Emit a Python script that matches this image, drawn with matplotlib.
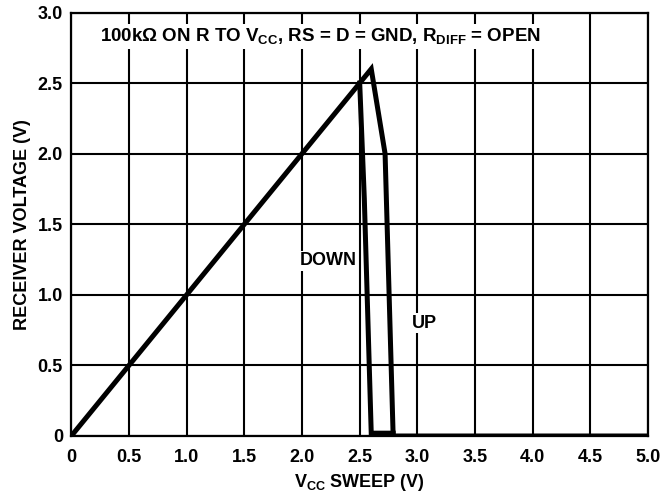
import numpy as np
import matplotlib
matplotlib.use('Agg')
import matplotlib.pyplot as plt

plt.rcParams['font.family'] = ['Liberation Sans', 'DejaVu Sans']
plt.rcParams['font.weight'] = 'bold'
plt.rcParams['mathtext.fontset'] = 'custom'
plt.rcParams['mathtext.rm'] = 'Liberation Sans:bold'
plt.rcParams['mathtext.it'] = 'Liberation Sans:bold'
plt.rcParams['mathtext.bf'] = 'Liberation Sans:bold'

# sweep up: follows VCC then drops
up_x = [0.0, 2.60, 2.72, 2.79, 5.0]
up_y = [0.0, 2.60, 2.00, 0.0, 0.0]

# sweep down: rises off zero near 2.6 V back to the diagonal
down_x = [2.79, 2.60, 2.54, 2.50]
down_y = [0.02, 0.02, 1.68, 2.50]

x_ticks = [0, 0.5, 1.0, 1.5, 2.0, 2.5, 3.0, 3.5, 4.0, 4.5, 5.0]
x_tick_labels = ['0', '0.5', '1.0', '1.5', '2.0', '2.5', '3.0', '3.5', '4.0', '4.5', '5.0']
y_ticks = [0, 0.5, 1.0, 1.5, 2.0, 2.5, 3.0]
y_tick_labels = ['0', '0.5', '1.0', '1.5', '2.0', '2.5', '3.0']

fig = plt.figure(figsize=(6.6, 5.0), dpi=100)
ax = fig.add_axes([0.108, 0.128, 0.874, 0.847])

ax.plot(up_x, up_y, color='black', linewidth=3.6, solid_joinstyle='miter', zorder=3)
ax.plot(down_x, down_y, color='black', linewidth=3.6, solid_joinstyle='miter', zorder=3)

ax.set_xlim(0, 5)
ax.set_ylim(0, 3)
ax.set_xticks(x_ticks)
ax.set_xticklabels(x_tick_labels)
ax.set_yticks(y_ticks)
ax.set_yticklabels(y_tick_labels)
ax.tick_params(length=0, labelsize=13)
ax.tick_params(axis='x', pad=9)
ax.tick_params(axis='y', pad=6)
ax.grid(True, color='black', linewidth=1.5)
for s in ax.spines.values():
    s.set_linewidth(1.6)

ax.set_xlabel(r'$\mathbf{V_{CC}}$ SWEEP (V)', fontsize=13, fontweight='bold', labelpad=5)
ax.set_ylabel('RECEIVER VOLTAGE (V)', fontsize=13, fontweight='bold', labelpad=5)

ax.text(0.25, 2.83, r'100k$\Omega$ ON R TO V$_{CC}$, RS = D = GND, R$_{DIFF}$ = OPEN',
        fontsize=13.5, fontweight='bold', va='center', ha='left', zorder=4,
        bbox=dict(facecolor='white', edgecolor='none', pad=2))
ax.text(2.23, 1.24, 'DOWN', fontsize=13, fontweight='bold', ha='center', va='center', zorder=4,
        bbox=dict(facecolor='white', edgecolor='none', pad=1))
ax.text(3.06, 0.8, 'UP', fontsize=13, fontweight='bold', ha='center', va='center', zorder=4,
        bbox=dict(facecolor='white', edgecolor='none', pad=1))

fig.savefig('out.png', dpi=100)
